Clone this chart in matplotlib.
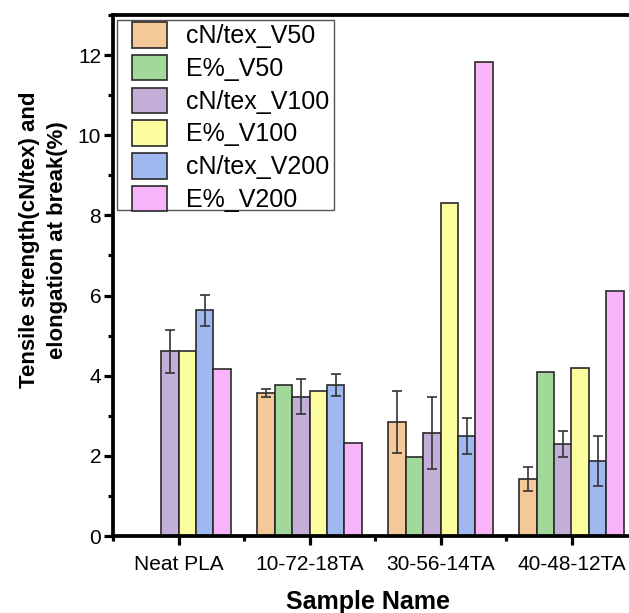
import numpy as np
import matplotlib
matplotlib.use("Agg")
import matplotlib.pyplot as plt
from matplotlib.ticker import MultipleLocator, FixedLocator
from matplotlib.patches import Rectangle

plt.rcParams['font.family'] = ['Liberation Sans', 'DejaVu Sans']

samples = ["Neat PLA", "10-72-18TA", "30-56-14TA", "40-48-12TA"]
series_names = ["cN/tex_V50", "E%_V50", "cN/tex_V100", "E%_V100", "cN/tex_V200", "E%_V200"]

cN_V50 = [np.nan, 3.57, 2.85, 1.42]
cN_V50_err = [np.nan, 0.10, 0.78, 0.30]
E_V50 = [np.nan, 3.76, 1.98, 4.08]
cN_V100 = [4.61, 3.48, 2.57, 2.29]
cN_V100_err = [0.54, 0.44, 0.90, 0.33]
E_V100 = [4.61, 3.63, 8.30, 4.19]
cN_V200 = [5.63, 3.76, 2.49, 1.87]
cN_V200_err = [0.38, 0.27, 0.45, 0.62]
E_V200 = [4.17, 2.32, 11.82, 6.12]

values = [cN_V50, E_V50, cN_V100, E_V100, cN_V200, E_V200]
errors = [cN_V50_err, None, cN_V100_err, None, cN_V200_err, None]
colors = ["#F5C898", "#A2D89A", "#C2AED6", "#FCFD9E", "#A0B8F0", "#F8B4F8"]

W, H = 629, 613
fig = plt.figure(figsize=(W / 100, H / 100), dpi=100)
ax = fig.add_axes([113 / W, 77 / H, (637 - 113) / W, (536 - 15) / H])

x = np.arange(1, len(samples) + 1)
w = 0.133
for i, (vals, err, col, name) in enumerate(zip(values, errors, colors, series_names)):
    pos = x + (i - 2.5) * w
    ax.bar(pos, vals, width=w, color=col, edgecolor="#2a2a2a", linewidth=1.2,
           label=name, zorder=2)
    if err is not None:
        ax.errorbar(pos, vals, yerr=err, fmt="none", ecolor="#333333",
                    elinewidth=1.2, capsize=3.7, capthick=1.2, zorder=3)

ax.set_xlim(0.5, 4.5)
ax.set_ylim(0, 13)
ax.yaxis.set_major_locator(MultipleLocator(2))
ax.yaxis.set_minor_locator(MultipleLocator(1))
ax.set_xticks(x)
ax.set_xticklabels(samples)
ax.xaxis.set_minor_locator(FixedLocator([0.5, 1.5, 2.5, 3.5, 4.5]))

for s in ["left", "bottom", "top"]:
    ax.spines[s].set_linewidth(2.7)
ax.spines["right"].set_visible(False)

ax.tick_params(axis="both", which="major", direction="out", length=6.5, width=2.3,
               labelsize=15, pad=7)
ax.tick_params(axis="both", which="minor", direction="out", length=3.5, width=2.3)
ax.tick_params(axis="y", which="major", pad=2)

ax.set_xlabel("Sample Name", fontsize=18, fontweight="bold")
ax.xaxis.set_label_coords((368 - 113) / 524, -54 / 521)
ax.set_ylabel("Tensile strength(cN/tex) and\nelongation at break(%)", fontsize=16,
              fontweight="bold", linespacing=1.45)
ax.yaxis.set_label_coords((68 - 113) / 524, (536 - 240) / 521)

# legend frame drawn as a plain rectangle in pixel position
frame = Rectangle((117 / W, 1 - 210 / H), (334 - 117) / W, (210 - 20) / H,
                  transform=fig.transFigure, facecolor="white",
                  edgecolor="#555555", linewidth=1.0, zorder=4, clip_on=False)
ax.add_patch(frame)
leg = ax.legend(loc="upper left", bbox_to_anchor=(132 / W, 1 - 22 / H),
                bbox_transform=fig.transFigure, fontsize=18, frameon=False,
                handlelength=1.4, handleheight=1.2, labelspacing=0.26,
                handletextpad=0.76, borderpad=0, borderaxespad=0)
leg.set_zorder(5)

fig.savefig("out.png", dpi=100)
